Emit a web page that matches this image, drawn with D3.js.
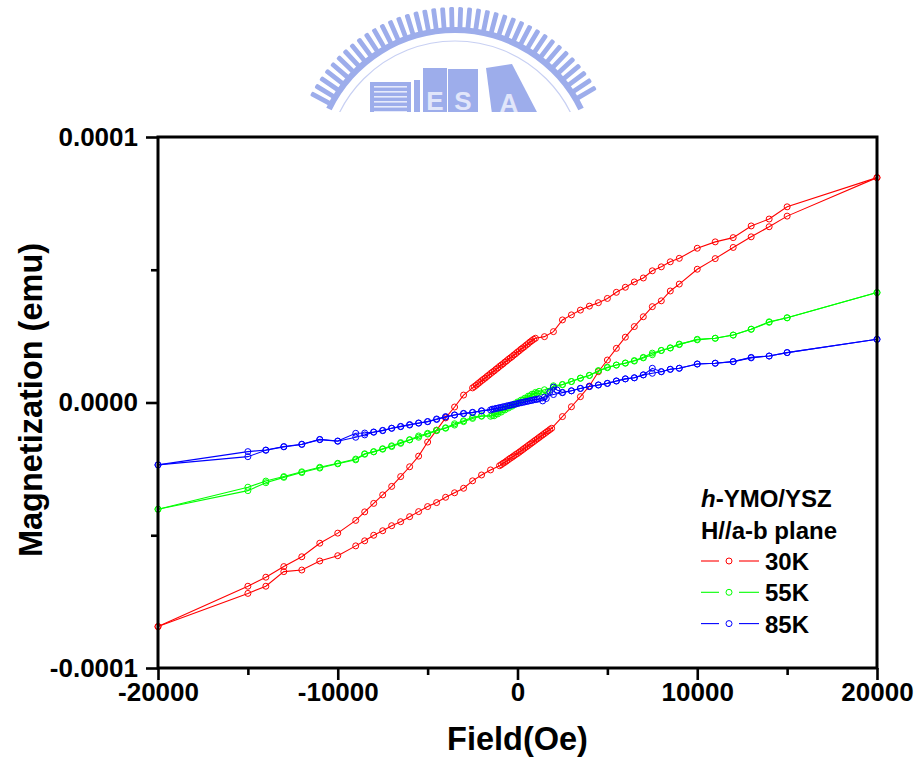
<!DOCTYPE html>
<html>
<head>
<meta charset="utf-8">
<script src="https://cdn.jsdelivr.net/npm/d3@7"></script>
<style>
  body { margin: 0; background: #fff; }
  svg { display: block; }
  text { font-family: "Liberation Sans", Arial, sans-serif; font-weight: bold; }
</style>
</head>
<body>
<svg id="chart" width="917" height="758"></svg>
<script>
// ---- Data: field in Oe, magnetization in units of 1e-5 emu ----
// 30 K, field swept down from +20 kOe
const field30Down = [20000,15000,14000,13000,12000,11000,10000,9000,8500,8000,7500,7000,6500,6000,5500,5000,4500,4000,3500,3000,2500,2000,1500,
  1000,900,800,700,600,500,400,300,200,100,0,-100,-200,-300,-400,-500,-600,-700,-800,-900,-1000,-1100,-1200,-1300,-1400,-1500,-1600,-1700,-1800,-1900,-2000,-2100,-2200,-2300,-2400,
  -2500,-3000,-3500,-4000,-4500,-5000,-5500,-6000,-6500,-7000,-7500,-8000,-8500,-9000,-10000,-11000,-12000,-13000,-14000,-15000,-20000];
const m30Down = [8.47,7.37,6.91,6.65,6.21,6.05,5.81,5.43,5.30,5.11,4.96,4.69,4.54,4.34,4.15,3.92,3.76,3.63,3.48,3.30,3.11,2.67,2.48,
  2.42,2.38,2.33,2.28,2.22,2.17,2.11,2.06,2.01,1.95,1.90,1.84,1.79,1.73,1.68,1.63,1.57,1.52,1.46,1.41,1.36,1.30,1.25,1.19,1.14,1.09,1.03,0.98,0.92,0.87,0.82,0.76,0.71,0.65,0.60,
  0.55,0.28,-0.17,-0.58,-1.04,-1.49,-2.02,-2.42,-2.79,-3.16,-3.48,-3.80,-4.12,-4.44,-4.92,-5.30,-5.81,-6.18,-6.58,-6.92,-8.44];
// 30 K, field swept back up from -20 kOe
const field30Up = [-20000,-15000,-14000,-13000,-12000,-11000,-10000,
  -9000,-8500,-8000,-7500,-7000,-6500,-6000,-5500,-5000,-4500,-4000,-3500,-3000,-2500,-2000,-1500,
  -1000,-900,-800,-700,-600,-500,-400,-300,-200,-100,0,100,200,300,400,500,600,700,800,900,1000,1100,1200,1300,1400,1500,1600,1700,1800,1900,
  2500,3000,3500,4000,4500,5000,5500,6000,6500,7000,7500,8000,8500,9000,
  10000,11000,12000,13000,14000,15000,20000];
const m30Up = [-8.44,-7.19,-6.92,-6.37,-6.31,-5.97,-5.77,
  -5.40,-5.21,-5.00,-4.83,-4.64,-4.49,-4.30,-4.11,-3.92,-3.77,-3.57,-3.40,-3.23,-2.95,-2.73,-2.54,
  -2.38,-2.34,-2.29,-2.25,-2.20,-2.15,-2.10,-2.06,-2.01,-1.96,-1.92,-1.87,-1.82,-1.77,-1.72,-1.67,-1.62,-1.57,-1.52,-1.47,-1.42,-1.37,-1.32,-1.27,-1.22,-1.17,-1.12,-1.07,-1.02,-0.97,
  -0.53,-0.16,0.22,0.62,1.16,1.60,2.04,2.46,2.86,3.23,3.61,3.83,4.20,4.46,
  5.02,5.42,5.84,6.24,6.62,7.02,8.47];

// 55 K
const field55Down = [20000,15000,14000,13000,12000,11000,10000,9000,8500,8000,7500,7000,6500,6000,5500,5000,4500,4000,3500,3000,2500,2000,1500,
  1200,1000,800,600,400,200,0,-200,-400,-600,-800,-1000,-1200,-1400,
  -2000,-2500,-3000,-3500,-4000,-4500,-5000,-5500,-6000,-6500,-7000,-7500,-8000,-8500,-9000,-10000,-11000,-12000,-13000,-14000,-15000,-20000];
const m55Down = [4.14,3.19,3.02,2.76,2.54,2.42,2.36,2.20,2.06,1.96,1.86,1.70,1.58,1.49,1.41,1.31,1.19,1.02,0.91,0.79,0.67,0.58,0.48,
  0.42,0.38,0.31,0.24,0.16,0.09,0.02,-0.06,-0.13,-0.20,-0.27,-0.35,-0.42,-0.49,
  -0.50,-0.56,-0.69,-0.80,-0.95,-1.05,-1.16,-1.26,-1.40,-1.51,-1.63,-1.74,-1.85,-1.93,-2.13,-2.29,-2.44,-2.61,-2.79,-2.96,-3.19,-4.02];
const field55Up = [-20000,-15000,-14000,-13000,-12000,-11000,-10000,-9000,-8500,-8000,-7500,-7000,-6500,-6000,-5500,-5000,-4500,-4000,-3500,-3000,-2500,-2000,-1500,
  -1300,-1100,-900,-700,-500,-300,-100,100,300,500,700,900,1100,1400,1700,
  2000,2500,3000,3500,4000,4500,5000,5500,6000,6500,7000,7500,8000,8500,9000,10000,11000,12000,13000,14000,15000,20000];
const m55Up = [-4.02,-3.32,-3.02,-2.82,-2.64,-2.47,-2.31,-2.16,-1.95,-1.86,-1.76,-1.66,-1.54,-1.41,-1.31,-1.19,-1.06,-0.97,-0.85,-0.72,-0.60,-0.52,-0.52,
  -0.50,-0.43,-0.36,-0.28,-0.21,-0.14,-0.06,0.01,0.09,0.16,0.24,0.31,0.36,0.30,0.42,
  0.63,0.68,0.79,0.92,1.02,1.20,1.33,1.41,1.48,1.56,1.68,1.80,1.96,2.05,2.18,2.38,2.42,2.54,2.76,3.04,3.19,4.14];

// 85 K
const field85Down = [20000,15000,14000,13000,12000,11000,10000,9000,8500,8000,7500,7000,6500,6000,5500,5000,4500,4000,3500,3000,2500,2000,1500,
  1200,1000,800,600,400,200,0,-200,-400,-600,-800,-1000,-1200,-1400,
  -2000,-2500,-3000,-3500,-4000,-4500,-5000,-5500,-6000,-6500,-7000,-7500,-8000,-8500,-9000,-10000,-11000,-12000,-13000,-14000,-15000,-20000];
const m85Down = [2.38,1.88,1.75,1.68,1.54,1.48,1.45,1.29,1.25,1.16,1.10,1.04,0.93,0.89,0.81,0.72,0.66,0.60,0.53,0.44,0.37,0.30,0.20,
  0.14,0.11,0.08,0.05,0.02,-0.01,-0.04,-0.07,-0.10,-0.13,-0.16,-0.19,-0.22,-0.25,
  -0.31,-0.37,-0.41,-0.47,-0.55,-0.64,-0.72,-0.77,-0.83,-0.90,-0.97,-1.05,-1.11,-1.15,-1.16,
  -1.45,-1.39,-1.57,-1.66,-1.79,-1.85,-2.35];
const field85Up = [-20000,-15000,-14000,-13000,-12000,-11000,-10000,-9000,-8500,-8000,-7500,-7000,-6500,-6000,-5500,-5000,-4500,-4000,-3500,-3000,-2500,-2000,-1500,
  -1300,-1100,-900,-700,-500,-300,-100,100,300,500,700,900,1100,1400,1600,1800,
  2000,2200,2500,3000,3500,4000,4500,5000,5500,6000,6500,7000,7500,8000,8500,9000,
  10000,11000,12000,13000,14000,15000,20000];
const m85Up = [-2.35,-2.04,-1.80,-1.67,-1.58,-1.40,-1.46,-1.31,-1.22,-1.12,-1.06,-0.97,-0.91,-0.85,-0.78,-0.72,-0.62,-0.53,-0.47,-0.42,-0.38,-0.32,-0.28,
  -0.25,-0.22,-0.19,-0.16,-0.12,-0.09,-0.06,-0.02,0.01,0.04,0.07,0.10,0.12,0.06,0.15,0.40,
  0.58,0.47,0.38,0.44,0.53,0.60,0.66,0.72,0.81,0.89,0.93,1.04,1.29,1.16,1.25,1.29,
  1.45,1.48,1.54,1.70,1.75,1.88,2.38];

const seriesNames = ["30K", "55K", "85K"];
const seriesColors = ["#ff0000", "#00ff00", "#0000ff"];
const xTicks = [-20000, -10000, 0, 10000, 20000];
const xMinorTicks = [-15000, -5000, 5000, 15000];
const yTicks = [-0.0001, 0, 0.0001];
const yMinorTicks = [-0.00005, 0.00005];
const EMU_UNIT = 1e-5;

const series = [
  { name: seriesNames[0], color: seriesColors[0], branches: [[field30Down, m30Down], [field30Up, m30Up]] },
  { name: seriesNames[1], color: seriesColors[1], branches: [[field55Down, m55Down], [field55Up, m55Up]] },
  { name: seriesNames[2], color: seriesColors[2], branches: [[field85Down, m85Down], [field85Up, m85Up]] }
];

// ---- Layout ----
const svg = d3.select("#chart");
const plot = { left: 158, top: 137, right: 877, bottom: 668 };
const x = d3.scaleLinear().domain([-20000, 20000]).range([plot.left, plot.right]);
const y = d3.scaleLinear().domain([-0.0001, 0.0001]).range([plot.bottom, plot.top]);

// ---- Faint university seal behind the header ----
const defs = svg.append("defs");
defs.append("clipPath").attr("id", "sealClip")
  .append("rect").attr("x", 0).attr("y", 0).attr("width", 917).attr("height", 112);
const sealColor = "#9dadeb";
const seal = svg.append("g").attr("clip-path", "url(#sealClip)");
const sc = { x: 455, y: 170 };
seal.append("path")
  .attr("transform", `translate(${sc.x},${sc.y})`)
  .attr("d", d3.arc()({ innerRadius: 137, outerRadius: 143, startAngle: -1.12, endAngle: 1.12 }))
  .attr("fill", sealColor);
seal.selectAll("rect.tooth")
  .data(d3.range(-62, 62.1, 3.2))
  .join("rect")
  .attr("class", "tooth")
  .attr("x", -2.4).attr("y", -163).attr("width", 4.8).attr("height", 22)
  .attr("rx", 1.5)
  .attr("fill", sealColor)
  .attr("transform", a => `translate(${sc.x},${sc.y}) rotate(${a})`);
seal.append("circle").attr("cx", sc.x).attr("cy", sc.y).attr("r", 129)
  .attr("fill", "none").attr("stroke", "#c8d0f3").attr("stroke-width", 1.2);
// building emblem
const bld = seal.append("g").attr("fill", sealColor);
bld.append("rect").attr("x", 370).attr("y", 82).attr("width", 41).attr("height", 32);
d3.range(86, 112, 5).forEach(yy =>
  bld.append("rect").attr("x", 374).attr("y", yy).attr("width", 33).attr("height", 1.6).attr("fill", "#e6eafb"));
bld.append("rect").attr("x", 414).attr("y", 80).attr("width", 6).attr("height", 34);
bld.append("rect").attr("x", 423).attr("y", 68).attr("width", 24).attr("height", 46);
bld.append("rect").attr("x", 448).attr("y", 69).attr("width", 30).attr("height", 45);
bld.append("polygon").attr("points", "486,68 512,64 538,114 492,114");
seal.selectAll("text.seal-letter")
  .data([["E", 435, 110], ["S", 463, 110], ["A", 509, 112]])
  .join("text")
  .attr("class", "seal-letter")
  .attr("x", d => d[1]).attr("y", d => d[2])
  .attr("text-anchor", "middle")
  .attr("font-size", 26)
  .attr("fill", "#e1e6fa")
  .text(d => d[0]);

// ---- Curves ----
const line = d3.line().x(d => x(d[0])).y(d => y(d[1] * EMU_UNIT));
const curves = svg.append("g");
series.forEach(s => {
  const g = curves.append("g");
  s.branches.forEach(([f, m]) => {
    const pts = d3.zip(f, m);
    g.append("path").attr("d", line(pts))
      .attr("fill", "none").attr("stroke", s.color).attr("stroke-width", 1.1);
    g.selectAll(null).data(pts).join("circle")
      .attr("cx", d => x(d[0])).attr("cy", d => y(d[1] * EMU_UNIT))
      .attr("r", 3)
      .attr("fill", "none").attr("stroke", s.color).attr("stroke-width", 1);
  });
});

// ---- Axes ----
const tickFont = 26;
function styleAxis(g) {
  g.select(".domain").remove();
  g.selectAll(".tick line").attr("stroke", "#000").attr("stroke-width", 2.6);
  g.selectAll(".tick text").attr("fill", "#000").attr("font-size", tickFont)
    .attr("font-family", "'Liberation Sans', Arial, sans-serif").attr("font-weight", "bold");
}
svg.append("g").attr("transform", `translate(0,${plot.bottom})`)
  .call(d3.axisBottom(x).tickValues(xTicks).tickSize(12).tickPadding(3).tickFormat(d => String(d)))
  .call(styleAxis);
svg.append("g").attr("transform", `translate(0,${plot.bottom})`)
  .call(d3.axisBottom(x).tickValues(xMinorTicks).tickSize(7).tickFormat(""))
  .call(styleAxis);
svg.append("g").attr("transform", `translate(${plot.left},0)`)
  .call(d3.axisLeft(y).tickValues(yTicks).tickSize(12).tickPadding(8).tickFormat(d => d.toFixed(4)))
  .call(styleAxis);
svg.append("g").attr("transform", `translate(${plot.left},0)`)
  .call(d3.axisLeft(y).tickValues(yMinorTicks).tickSize(7).tickFormat(""))
  .call(styleAxis);

svg.append("rect")
  .attr("x", plot.left).attr("y", plot.top)
  .attr("width", plot.right - plot.left).attr("height", plot.bottom - plot.top)
  .attr("fill", "none").attr("stroke", "#000").attr("stroke-width", 3);

// ---- Axis titles ----
svg.append("text").attr("x", (plot.left + plot.right) / 2).attr("y", 750)
  .attr("text-anchor", "middle").attr("font-size", 32.5).text("Field(Oe)");
svg.append("text")
  .attr("transform", `translate(42,400) rotate(-90)`)
  .attr("text-anchor", "middle").attr("font-size", 32.5).text("Magnetization (emu)");

// ---- Legend ----
const legend = svg.append("g").attr("font-size", 24);
const head = legend.append("text").attr("x", 701).attr("y", 507);
head.append("tspan").attr("font-style", "italic").text("h");
head.append("tspan").text("-YMO/YSZ");
legend.append("text").attr("x", 701).attr("y", 539).text("H//a-b plane");
series.forEach((s, i) => {
  const yy = 561 + i * 31.3;
  const item = legend.append("g");
  item.append("line").attr("x1", 701).attr("x2", 719).attr("y1", yy).attr("y2", yy)
    .attr("stroke", s.color).attr("stroke-width", 1.1);
  item.append("line").attr("x1", 739).attr("x2", 759).attr("y1", yy).attr("y2", yy)
    .attr("stroke", s.color).attr("stroke-width", 1.1);
  item.append("circle").attr("cx", 729).attr("cy", yy).attr("r", 3)
    .attr("fill", "none").attr("stroke", s.color).attr("stroke-width", 1);
  item.append("text").attr("x", 765).attr("y", yy + 9).text(s.name);
});
</script>
</body>
</html>
